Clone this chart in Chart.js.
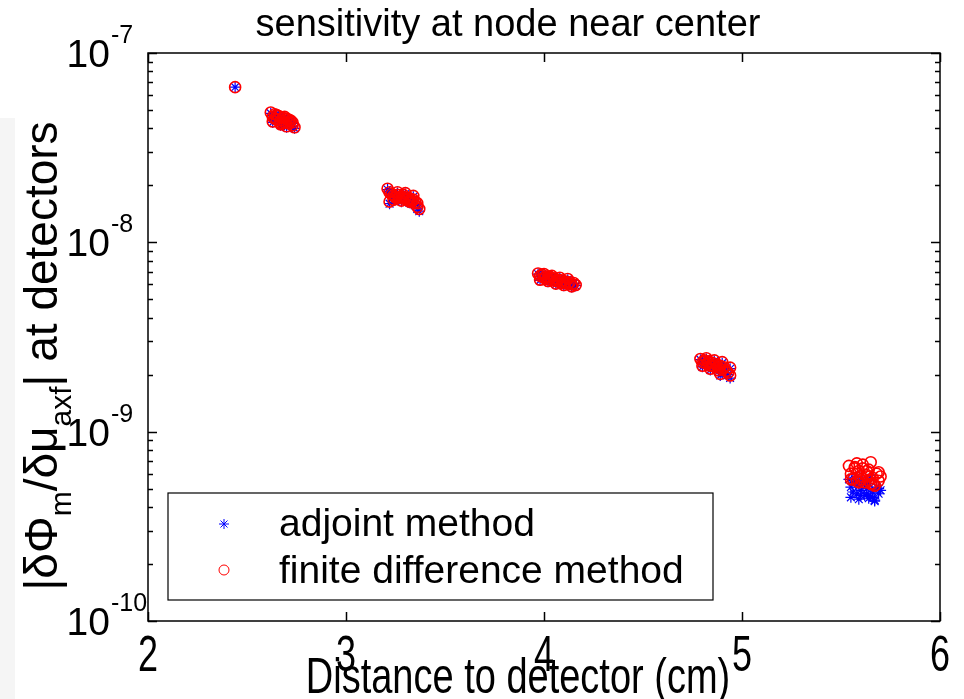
<!DOCTYPE html>
<html>
<head>
<meta charset="utf-8">
<script src="https://cdn.jsdelivr.net/npm/chart.js@4"></script>
<style>
  body { margin: 0; background: #fff; }
  #wrap { width: 964px; height: 699px; position: relative; }
</style>
</head>
<body>
<div id="wrap"><canvas id="graf"></canvas></div>
<script>
// detector distances (cm), one entry per detector
const distance = [
  2.44,
  2.62, 2.63, 2.64, 2.65, 2.66, 2.67, 2.68, 2.69, 2.70, 2.71, 2.72, 2.73, 2.74, 2.67,
  2.63, 2.65, 2.67, 2.69, 2.71, 2.73, 2.64, 2.68, 2.72, 2.70,
  3.21, 3.22, 3.23, 3.24, 3.25, 3.26, 3.27, 3.28, 3.29, 3.30, 3.31, 3.32, 3.33, 3.34, 3.35, 3.36, 3.37, 3.22,
  3.24, 3.26, 3.28, 3.30, 3.32, 3.34, 3.36, 3.25, 3.29, 3.33,
  3.97, 3.98, 3.99, 4.00, 4.01, 4.02, 4.03, 4.04, 4.05, 4.06, 4.07, 4.08, 4.09, 4.10, 4.11, 4.12, 4.13, 4.14, 4.15, 4.16,
  3.98, 4.00, 4.02, 4.04, 4.06, 4.08, 4.10, 4.12, 4.14, 4.03,
  4.79, 4.80, 4.81, 4.82, 4.83, 4.84, 4.85, 4.86, 4.87, 4.88, 4.89, 4.90, 4.91, 4.92, 4.93, 4.94, 4.85,
  4.80, 4.82, 4.84, 4.86, 4.88, 4.90, 4.92, 4.94, 4.83, 4.89,
  5.54, 5.55, 5.56, 5.57, 5.58, 5.59, 5.60, 5.61, 5.62, 5.63, 5.64, 5.65, 5.66, 5.67, 5.68, 5.69, 5.70, 5.58, 5.63, 5.66,
  5.55, 5.57, 5.59, 5.61, 5.63, 5.65, 5.67, 5.69, 5.60, 5.64
];

// |dPhi/dmu| from the adjoint method
const adjoint = [
  6.6e-8,
  4.80e-8, 4.55e-8, 4.70e-8, 4.40e-8, 4.60e-8, 4.35e-8, 4.50e-8, 4.25e-8, 4.45e-8, 4.20e-8, 4.30e-8, 4.10e-8, 4.00e-8, 4.20e-8,
  4.30e-8, 4.65e-8, 4.15e-8, 4.55e-8, 4.40e-8, 4.25e-8, 4.45e-8, 4.20e-8, 4.35e-8, 4.05e-8,
  1.90e-8, 1.60e-8, 1.78e-8, 1.75e-8, 1.72e-8, 1.76e-8, 1.70e-8, 1.73e-8, 1.68e-8, 1.71e-8, 1.66e-8, 1.69e-8, 1.64e-8, 1.66e-8, 1.60e-8, 1.50e-8, 1.46e-8, 1.82e-8,
  1.66e-8, 1.82e-8, 1.64e-8, 1.80e-8, 1.62e-8, 1.74e-8, 1.58e-8, 1.70e-8, 1.76e-8, 1.60e-8,
  6.80e-9, 6.60e-9, 6.70e-9, 6.45e-9, 6.55e-9, 6.35e-9, 6.50e-9, 6.25e-9, 6.40e-9, 6.20e-9, 6.30e-9, 6.10e-9, 6.25e-9, 6.05e-9, 6.15e-9, 6.00e-9, 6.10e-9, 5.95e-9, 6.05e-9, 5.90e-9,
  6.30e-9, 6.75e-9, 6.20e-9, 6.60e-9, 6.00e-9, 6.45e-9, 5.90e-9, 6.35e-9, 5.80e-9, 6.50e-9,
  2.40e-9, 2.30e-9, 2.35e-9, 2.25e-9, 2.32e-9, 2.20e-9, 2.28e-9, 2.18e-9, 2.24e-9, 2.15e-9, 2.20e-9, 2.10e-9, 2.16e-9, 2.05e-9, 2.00e-9, 1.92e-9, 2.22e-9,
  2.20e-9, 2.42e-9, 2.12e-9, 2.36e-9, 2.08e-9, 2.30e-9, 2.05e-9, 2.15e-9, 2.28e-9, 1.98e-9,
  5.60e-10, 5.10e-10, 4.80e-10, 5.40e-10, 4.70e-10, 5.20e-10, 4.90e-10, 5.50e-10, 4.60e-10, 5.00e-10, 5.30e-10, 4.55e-10, 4.80e-10, 4.35e-10, 5.10e-10, 4.70e-10, 4.90e-10, 5.80e-10, 5.20e-10, 4.50e-10,
  4.50e-10, 5.60e-10, 4.40e-10, 5.30e-10, 4.70e-10, 5.70e-10, 4.30e-10, 5.00e-10, 4.60e-10, 4.45e-10
];

// same quantity from finite differences
const finiteDiff = [
  6.6e-8,
  4.85e-8, 4.60e-8, 4.75e-8, 4.45e-8, 4.65e-8, 4.40e-8, 4.55e-8, 4.30e-8, 4.50e-8, 4.25e-8, 4.35e-8, 4.15e-8, 4.05e-8, 4.25e-8,
  4.35e-8, 4.70e-8, 4.20e-8, 4.60e-8, 4.45e-8, 4.30e-8, 4.50e-8, 4.25e-8, 4.40e-8, 4.10e-8,
  1.92e-8, 1.64e-8, 1.80e-8, 1.77e-8, 1.74e-8, 1.78e-8, 1.72e-8, 1.75e-8, 1.70e-8, 1.73e-8, 1.68e-8, 1.71e-8, 1.66e-8, 1.68e-8, 1.63e-8, 1.54e-8, 1.50e-8, 1.84e-8,
  1.68e-8, 1.84e-8, 1.66e-8, 1.82e-8, 1.64e-8, 1.76e-8, 1.61e-8, 1.72e-8, 1.78e-8, 1.63e-8,
  6.85e-9, 6.65e-9, 6.75e-9, 6.50e-9, 6.60e-9, 6.40e-9, 6.55e-9, 6.30e-9, 6.45e-9, 6.25e-9, 6.35e-9, 6.15e-9, 6.30e-9, 6.10e-9, 6.20e-9, 6.05e-9, 6.15e-9, 6.00e-9, 6.10e-9, 5.95e-9,
  6.35e-9, 6.80e-9, 6.25e-9, 6.65e-9, 6.05e-9, 6.50e-9, 5.95e-9, 6.40e-9, 5.85e-9, 6.55e-9,
  2.42e-9, 2.33e-9, 2.38e-9, 2.28e-9, 2.35e-9, 2.23e-9, 2.31e-9, 2.21e-9, 2.27e-9, 2.18e-9, 2.23e-9, 2.13e-9, 2.19e-9, 2.09e-9, 2.05e-9, 1.98e-9, 2.25e-9,
  2.23e-9, 2.44e-9, 2.15e-9, 2.38e-9, 2.11e-9, 2.33e-9, 2.09e-9, 2.18e-9, 2.31e-9, 2.02e-9,
  6.60e-10, 6.00e-10, 5.60e-10, 6.40e-10, 5.50e-10, 6.20e-10, 5.80e-10, 6.70e-10, 5.40e-10, 5.90e-10, 6.30e-10, 5.30e-10, 5.70e-10, 5.20e-10, 6.00e-10, 5.50e-10, 5.80e-10, 6.80e-10, 6.20e-10, 5.30e-10,
  5.60e-10, 6.50e-10, 5.40e-10, 6.40e-10, 5.80e-10, 6.90e-10, 5.20e-10, 6.10e-10, 5.60e-10, 5.50e-10
];

const xTicks = [2, 3, 4, 5, 6];
const yExponents = [-10, -9, -8, -7];
const seriesNames = ["adjoint method", "finite difference method"];

const FONT = '"Liberation Sans", Arial, sans-serif';

// axes, ticks, labels and legend drawn MATLAB style
const matlabAxes = {
  id: "matlabAxes",
  beforeDraw(chart) {
    const ctx = chart.ctx;
    ctx.save();
    ctx.fillStyle = "#f5f5f5";
    ctx.fillRect(0, 118, 15, 581);
    ctx.restore();
  },
  afterDatasetsDraw(chart) {
    const ctx = chart.ctx;
    const a = chart.chartArea;
    const xs = chart.scales.x, ys = chart.scales.y;
    ctx.save();
    ctx.strokeStyle = "#000";
    ctx.lineWidth = 1.5;
    ctx.strokeRect(a.left, a.top, a.right - a.left, a.bottom - a.top);

    ctx.beginPath();
    xTicks.forEach(v => {
      const px = Math.round(xs.getPixelForValue(v)) + 0.5;
      ctx.moveTo(px, a.bottom); ctx.lineTo(px, a.bottom - 9);
      ctx.moveTo(px, a.top); ctx.lineTo(px, a.top + 9);
    });
    for (let e = -10; e < -7; e++) {
      for (let m = 1; m <= 10; m++) {
        const py = Math.round(ys.getPixelForValue(m * Math.pow(10, e))) + 0.5;
        const len = (m === 1 || m === 10) ? 9 : 5;
        ctx.moveTo(a.left, py); ctx.lineTo(a.left + len, py);
        ctx.moveTo(a.right, py); ctx.lineTo(a.right - len, py);
      }
    }
    ctx.stroke();

    // x tick labels
    ctx.fillStyle = "#000";
    ctx.textAlign = "center";
    ctx.textBaseline = "alphabetic";
    xTicks.forEach(v => {
      const px = xs.getPixelForValue(v);
      ctx.save();
      ctx.translate(px, 671);
      ctx.scale(1, 1.38);
      ctx.font = "36px " + FONT;
      ctx.fillText(String(v), 0, 0);
      ctx.restore();
    });

    // y tick labels 10^n
    yExponents.forEach(e => {
      const py = ys.getPixelForValue(Math.pow(10, e));
      ctx.font = "39px " + FONT;
      ctx.textAlign = "right";
      ctx.fillText("10", 110, py + 14);
      ctx.font = "25px " + FONT;
      ctx.textAlign = "left";
      ctx.fillText(String(e), 111, py - 10);
    });

    // legend
    const lx = 168, ly = 493, lw = 545, lh = 107;
    ctx.fillStyle = "#fff";
    ctx.fillRect(lx, ly, lw, lh);
    ctx.lineWidth = 1.2;
    ctx.strokeStyle = "#000";
    ctx.strokeRect(lx, ly, lw, lh);
    // star marker
    const sx = 224, sy = 524, r = 5;
    ctx.strokeStyle = "#0000ff";
    ctx.lineWidth = 1;
    ctx.beginPath();
    ctx.moveTo(sx - r, sy); ctx.lineTo(sx + r, sy);
    ctx.moveTo(sx, sy - r); ctx.lineTo(sx, sy + r);
    ctx.moveTo(sx - r * 0.7, sy - r * 0.7); ctx.lineTo(sx + r * 0.7, sy + r * 0.7);
    ctx.moveTo(sx - r * 0.7, sy + r * 0.7); ctx.lineTo(sx + r * 0.7, sy - r * 0.7);
    ctx.stroke();
    ctx.strokeStyle = "#ff0000";
    ctx.beginPath();
    ctx.arc(224, 570, 5, 0, Math.PI * 2);
    ctx.stroke();
    ctx.fillStyle = "#000";
    ctx.font = "39px " + FONT;
    ctx.textAlign = "left";
    ctx.fillText(seriesNames[0], 279, 536);
    ctx.fillText(seriesNames[1], 279, 583);
    ctx.restore();
  },
  afterDraw(chart) {
    const ctx = chart.ctx;
    ctx.save();
    ctx.fillStyle = "#000";
    // title
    ctx.font = "38px " + FONT;
    ctx.textAlign = "center";
    ctx.fillText("sensitivity at node near center", 508, 36);

    // x axis title (stretched like the original)
    ctx.save();
    ctx.translate(518, 693);
    ctx.scale(1, 1.3);
    ctx.font = "38px " + FONT;
    ctx.fillText("Distance to detector (cm)", 0, 0);
    ctx.restore();

    // y axis title with subscripts
    const parts = [
      ["|\u03B4\u03A6", 46, 0],
      ["m", 30, 14],
      ["/\u03B4\u03BC", 46, 0],
      ["axf", 30, 14],
      ["| at detectors", 46, 0]
    ];
    let total = 0;
    parts.forEach(p => { ctx.font = p[1] + "px " + FONT; total += ctx.measureText(p[0]).width; });
    ctx.translate(57, 356);
    ctx.rotate(-Math.PI / 2);
    ctx.textAlign = "left";
    let x = -total / 2;
    parts.forEach(p => {
      ctx.font = p[1] + "px " + FONT;
      ctx.fillText(p[0], x, p[2]);
      x += ctx.measureText(p[0]).width;
    });
    ctx.restore();
  }
};

document.addEventListener("DOMContentLoaded", () => {
  new Chart(document.getElementById("graf"), {
    type: "scatter",
    data: {
      datasets: [
        {
          label: seriesNames[0],
          data: distance.map((d, i) => ({ x: d, y: adjoint[i] })),
          pointStyle: "star",
          radius: 5.5,
          borderColor: "#0000ff",
          backgroundColor: "#0000ff",
          borderWidth: 1.2,
          order: 2
        },
        {
          label: seriesNames[1],
          data: distance.map((d, i) => ({ x: d, y: finiteDiff[i] })),
          pointStyle: "circle",
          radius: 5.5,
          borderColor: "#ff0000",
          backgroundColor: "rgba(0,0,0,0)",
          borderWidth: 1.6,
          order: 1
        }
      ]
    },
    options: {
      responsive: true,
      maintainAspectRatio: false,
      animation: false,
      layout: { padding: { left: 148, top: 53, right: 24, bottom: 78 } },
      plugins: { legend: { display: false }, tooltip: { enabled: false } },
      scales: {
        x: { type: "linear", min: 2, max: 6, display: false },
        y: { type: "logarithmic", min: 1e-10, max: 1e-7, display: false }
      }
    },
    plugins: [matlabAxes]
  });
});
</script>
</body>
</html>
